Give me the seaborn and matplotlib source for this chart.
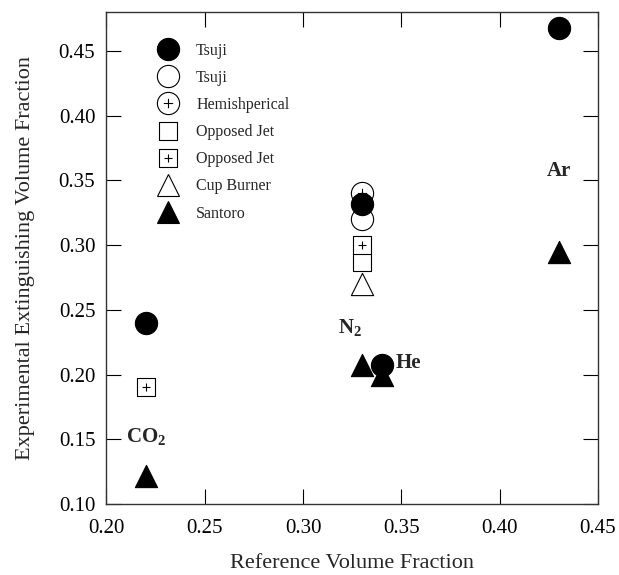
import numpy as np
import pandas as pd
import matplotlib
matplotlib.use("Agg")
import matplotlib.pyplot as plt
from matplotlib.path import Path
from matplotlib.lines import Line2D
import seaborn as sns

# ---- data ----
tsuji_filled_x = [0.22, 0.33, 0.34, 0.43]
tsuji_filled_y = [0.240, 0.332, 0.207, 0.468]
tsuji_open_x = [0.33]
tsuji_open_y = [0.320]
hemi_x = [0.33]
hemi_y = [0.340]
opp_jet_x = [0.33]
opp_jet_y = [0.287]
opp_jet_plus_x = [0.22, 0.33]
opp_jet_plus_y = [0.190, 0.300]
cup_x = [0.33]
cup_y = [0.270]
santoro_x = [0.22, 0.33, 0.34, 0.43]
santoro_y = [0.122, 0.207, 0.200, 0.295]

gas_labels = [r"$\mathbf{CO_2}$", r"$\mathbf{N_2}$", "He", "Ar"]
gas_x = [0.22, 0.324, 0.347, 0.43]
gas_y = [0.152, 0.236, 0.209, 0.357]

x_ticks = [0.20, 0.25, 0.30, 0.35, 0.40, 0.45]
y_ticks = [0.10, 0.15, 0.20, 0.25, 0.30, 0.35, 0.40, 0.45]

# ---- style ----
sns.set_theme(style="ticks")
plt.rcParams["font.family"] = ["Liberation Serif", "DejaVu Serif"]
plt.rcParams["mathtext.fontset"] = "custom"
plt.rcParams["mathtext.bf"] = "Liberation Serif:bold"
plt.rcParams["mathtext.rm"] = "Liberation Serif"

# custom markers
p = 0.42
circ = Path.unit_circle()
plus = Path([(-p, 0), (p, 0), (0, -p), (0, p)],
            [Path.MOVETO, Path.LINETO, Path.MOVETO, Path.LINETO])
circle_plus = Path.make_compound_path(circ, plus)
sq = Path([(-1, -1), (1, -1), (1, 1), (-1, 1), (-1, -1)],
          [Path.MOVETO, Path.LINETO, Path.LINETO, Path.LINETO, Path.CLOSEPOLY])
plus_sq = Path([(-0.45, 0), (0.45, 0), (0, -0.45), (0, 0.45)],
               [Path.MOVETO, Path.LINETO, Path.MOVETO, Path.LINETO])
square_plus = Path.make_compound_path(sq, plus_sq)

fig = plt.figure(figsize=(6.19, 5.75), dpi=100)
ax = fig.add_axes([0.172, 0.1235, 0.966 - 0.172, 0.979 - 0.1235])

series = [
    ("Tsuji", tsuji_filled_x, tsuji_filled_y, "o", "black", 16),
    ("Tsuji", tsuji_open_x, tsuji_open_y, "o", "white", 16),
    ("Hemishperical", hemi_x, hemi_y, circle_plus, "white", 16),
    ("Opposed Jet", opp_jet_x, opp_jet_y, sq, "white", 13),
    ("Opposed Jet", opp_jet_plus_x, opp_jet_plus_y, square_plus, "white", 12.5),
    ("Cup Burner", cup_x, cup_y, "^", "white", 16),
    ("Santoro", santoro_x, santoro_y, "^", "black", 16),
]
order = [3, 4, 5, 1, 2, 0, 6]
for i in order:
    lab, xs, ys, mk, fc, ms = series[i]
    df = pd.DataFrame({"x": xs, "y": ys})
    sns.scatterplot(data=df, x="x", y="y", marker=mk, s=ms ** 2,
                    facecolor=fc, edgecolor="black", linewidth=0.8,
                    ax=ax, legend=False, zorder=3)
handles = []
for lab, xs, ys, mk, fc, ms in series:
    handles.append(Line2D([], [], linestyle="none", marker=mk, markersize=ms,
                          markerfacecolor=fc, markeredgecolor="black",
                          markeredgewidth=0.8, label=lab))

leg = ax.legend(handles=handles, loc="upper left",
                bbox_to_anchor=(0.093, 0.951), frameon=False,
                fontsize=11.5, handlelength=1.2, handletextpad=1.15,
                labelspacing=0.7, borderaxespad=0)

for t, gx, gy in zip(gas_labels, gas_x, gas_y):
    ha = "left" if t == "He" else "center"
    ax.text(gx, gy, t, fontsize=15, fontweight="bold", ha=ha, va="center",
            zorder=4)

ax.set_xlim(0.20, 0.45)
ax.set_ylim(0.10, 0.48)
ax.set_xticks(x_ticks)
ax.set_yticks(y_ticks)
ax.set_xticklabels([f"{v:.2f}" for v in x_ticks])
ax.set_yticklabels([f"{v:.2f}" for v in y_ticks])
ax.tick_params(direction="in", length=11, width=0.8, top=True, right=True,
               labelsize=15, pad=8, colors="black")
ax.tick_params(axis="x", pad=11)
for s in ax.spines.values():
    s.set_linewidth(1.0)
    s.set_color("#333333")
ax.set_xlabel("Reference Volume Fraction", fontsize=16, labelpad=11)
ax.set_ylabel("Experimental Extinguishing Volume Fraction", fontsize=16,
              labelpad=17)

fig.savefig("out.png", dpi=100)
